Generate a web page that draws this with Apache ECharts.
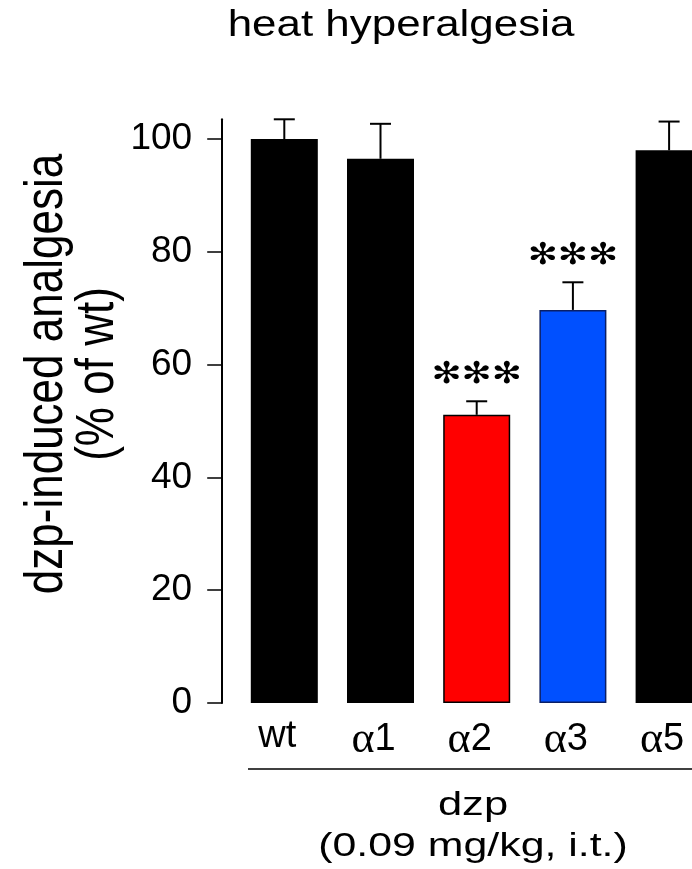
<!DOCTYPE html>
<html>
<head>
<meta charset="utf-8">
<script src="https://cdn.jsdelivr.net/npm/echarts@6/dist/echarts.min.js"></script>
<style>
html,body{margin:0;padding:0;background:#fff;}
#chart{width:692px;height:869px;}
</style>
</head>
<body>
<div id="chart"></div>
<script>
const categories = ['wt', 'α1', 'α2', 'α3', 'α5'];
const means = [100, 96.5, 51.1, 69.7, 98.0];
const sems = [3.5, 6.2, 2.4, 4.9, 5.1];
const sigMarks = ['', '', '***', '***', ''];
const barColors = ['#000000', '#000000', '#ff0000', '#0050ff', '#000000'];
const barBorders = ['#000000', '#000000', '#000000', '#0a1f66', '#000000'];
const yTicks = [0, 20, 40, 60, 80, 100];
const yMax = 103.5;

const SANS = '"Liberation Sans", Arial, Helvetica, sans-serif';

const chart = echarts.init(document.getElementById('chart'));

function txt(text, x, y, size, opts) {
  opts = opts || {};
  return {
    type: 'text',
    x: x, y: y,
    rotation: opts.rotation || 0,
    scaleX: opts.scaleX || 1,
    scaleY: opts.scaleY || 1,
    style: {
      text: text,
      fontFamily: SANS,
      fontSize: size,
      lineHeight: opts.lineHeight || size * 1.15,
      fill: '#000',
      align: 'center',
      verticalAlign: 'middle',
      textAlign: 'center',
      textVerticalAlign: 'middle'
    }
  };
}

const option = {
  backgroundColor: '#ffffff',
  animation: false,
  grid: { left: 236.2, width: 481, top: 119.3, height: 583.7, containLabel: false, outerBoundsMode: 'none' },
  xAxis: {
    type: 'category',
    data: categories,
    axisLine: { show: false },
    axisTick: { show: false },
    axisLabel: {
      margin: 15,
      padding: [0, 14, 0, 0],
      formatter: function (v) {
        if (v.charAt(0) === 'α') return '{a|α}{n|' + v.slice(1) + '}';
        return '{n|' + v + '}';
      },
      rich: {
        a: { fontFamily: '"Liberation Serif", "Times New Roman", serif', fontSize: 44, color: '#000' },
        n: { fontFamily: SANS, fontSize: 38, color: '#000' }
      }
    }
  },
  yAxis: {
    type: 'value',
    min: 0,
    max: yMax,
    interval: 20,
    offset: 14,
    splitLine: { show: false },
    axisLine: { show: true, lineStyle: { color: '#000', width: 2 } },
    axisTick: { show: true, length: 15, lineStyle: { color: '#000', width: 1.5 }, customValues: yTicks },
    axisLabel: { margin: 30, fontFamily: SANS, fontSize: 37, color: '#000', customValues: yTicks }
  },
  series: [
    {
      type: 'bar',
      barWidth: 67,
      data: means.map(function (m, i) {
        return { value: m, itemStyle: { color: barColors[i], borderColor: barBorders[i], borderWidth: 1.5 } };
      })
    },
    {
      type: 'custom',
      z: 5,
      clip: false,
      data: categories.map(function (c, i) { return [i, means[i], sems[i]]; }),
      renderItem: function (params, api) {
        const i = params.dataIndex;
        const idx = api.value(0), m = api.value(1), s = api.value(2);
        const base = api.coord([idx, m]);
        const top = api.coord([idx, m + s]);
        const hw = 10.5;
        const children = [
          { type: 'line', shape: { x1: base[0], y1: base[1], x2: top[0], y2: top[1] }, style: { stroke: '#000', lineWidth: 2 } },
          { type: 'line', shape: { x1: top[0] - hw, y1: top[1], x2: top[0] + hw, y2: top[1] }, style: { stroke: '#000', lineWidth: 2 } }
        ];
        if (sigMarks[i]) {
          children.push({
            type: 'text',
            x: top[0], y: top[1] - 26,
            scaleX: 1.2,
            style: {
              text: sigMarks[i].replace(/\*/g, '✻'),
              fontFamily: '"DejaVu Sans", sans-serif',
              fontSize: 30,
              fill: '#000',
              align: 'center', verticalAlign: 'middle',
              textAlign: 'center', textVerticalAlign: 'middle'
            }
          });
        }
        return { type: 'group', children: children };
      }
    }
  ],
  graphic: [
    txt('heat hyperalgesia', 401, 26, 36, { scaleX: 1.22 }),
    txt('dzp-induced analgesia\n(% of wt)', 73, 374, 44, { rotation: Math.PI / 2, scaleY: 1.2, lineHeight: 42 }),
    {
      type: 'line',
      shape: { x1: 248, y1: 769, x2: 692, y2: 769 },
      style: { stroke: '#000', lineWidth: 1.5 }
    },
    txt('dzp', 473, 806, 34, { scaleX: 1.28 }),
    txt('(0.09 mg/kg, i.t.)', 473, 847, 34, { scaleX: 1.26 })
  ]
};
chart.setOption(option);
</script>
</body>
</html>
